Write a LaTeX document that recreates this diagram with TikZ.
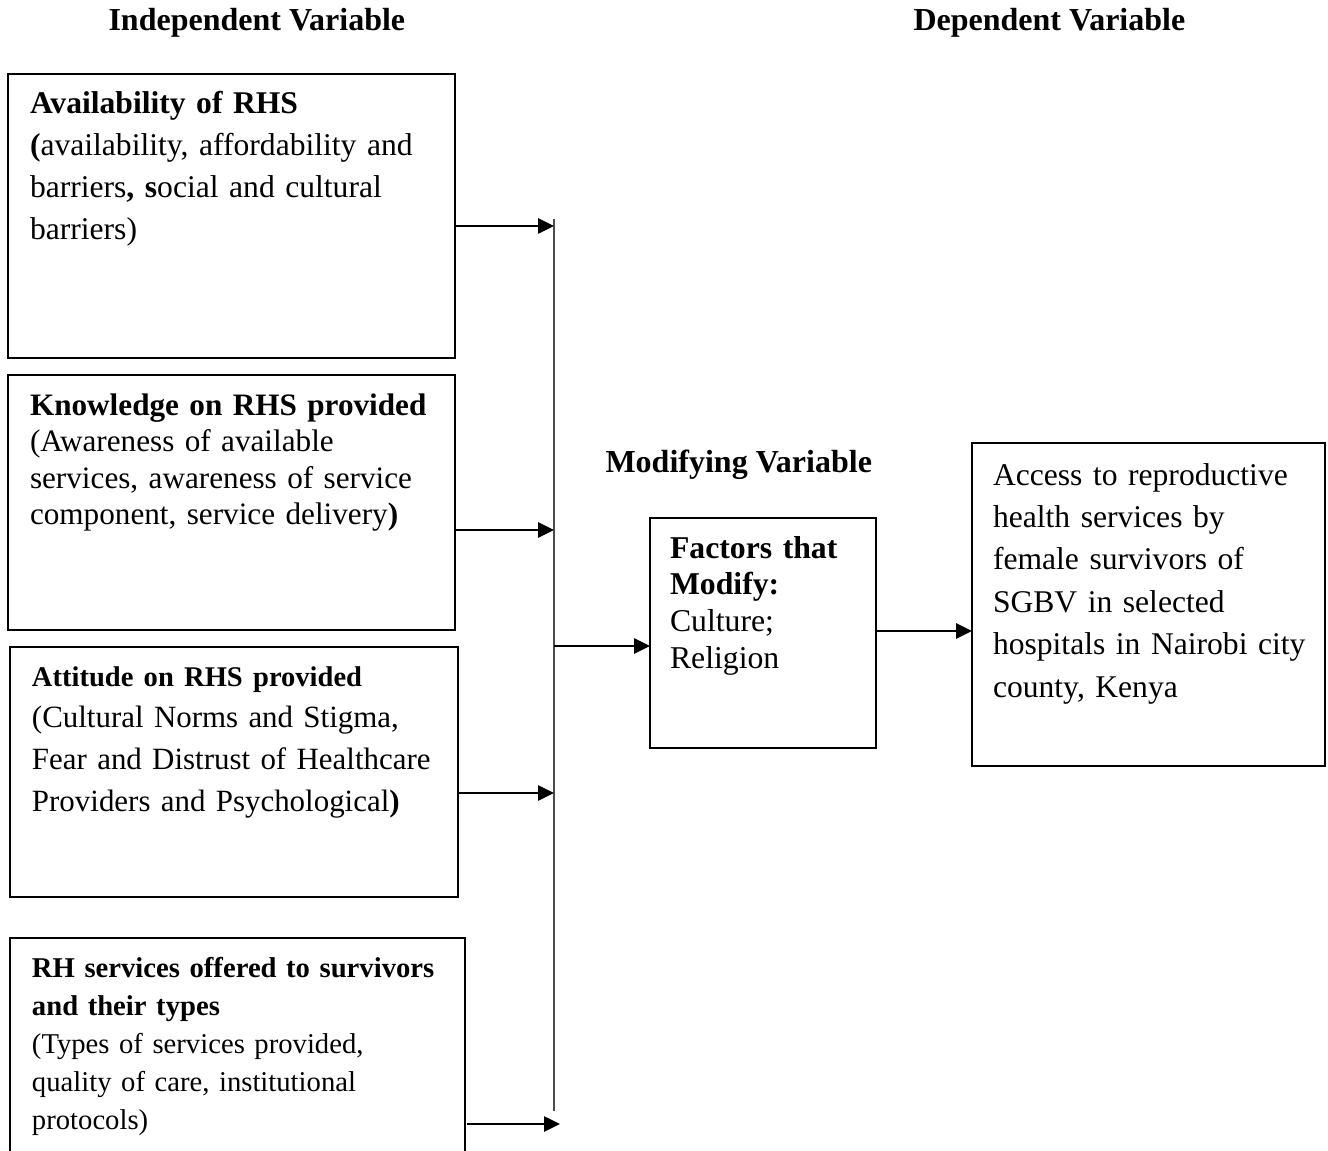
\documentclass[tikz,border=0pt]{standalone}
\usepackage{fontspec}
\setmainfont{Liberation Serif}
\usetikzlibrary{arrows.meta}
\begin{document}
\begin{tikzpicture}[x=0.375pt,y=-0.375pt,
  box/.style={draw, line width=0.75pt, anchor=north west, inner sep=0pt, outer sep=0pt},
  txt/.style={anchor=base west, inner sep=0pt, outer sep=0pt, align=left},
  arr/.style={line width=1.05pt, -{Triangle[length=6pt,width=5.6pt]}},
  bus/.style={line width=0.75pt, draw=black!70},
  hdr/.style={anchor=base west, inner sep=0pt, font=\fontsize{12}{14}\selectfont\bfseries}]
\useasboundingbox (0,0) rectangle (1328,1151);
\clip (0,0) rectangle (1328,1151);
% headers
\node[hdr] (hind) at (108,31) {Independent Variable};
\node[hdr] (hdep) at (913,31) {Dependent Variable};
\node[hdr] (hmod) at (605,472) {Modifying Variable};
% boxes
\node[box, minimum width=167.625pt, minimum height=106.5pt] (b1) at (8,74) {};
\node[box, minimum width=167.625pt, minimum height=95.625pt] (b2) at (8,375) {};
\node[box, minimum width=168pt, minimum height=93.75pt] (b3) at (10,647) {};
\node[box, minimum width=170.625pt, minimum height=93.75pt] (b4) at (10,938) {};
\node[box, minimum width=84.75pt, minimum height=86.25pt] (mod) at (650,518) {};
\node[box, minimum width=132.375pt, minimum height=121.125pt] (dep) at (972,443) {};
% texts
\node[txt, text width=160pt, font=\fontsize{11.85}{15.75}\selectfont] (t1) at (30,114)
  {\textbf{Availability of RHS}\\\textbf{(}availability, affordability and\\barriers\textbf{, s}ocial and cultural\\barriers)};
\node[txt, text width=160pt, font=\fontsize{11.7}{13.7}\selectfont] (t2) at (30,415)
  {\textbf{Knowledge on RHS provided}\\(Awareness of available\\services, awareness of service\\component, service delivery\textbf{)}};
\node[txt, text width=160pt, font=\fontsize{11.6}{15.7}\selectfont] (t3) at (32,686)
  {{\fontsize{10.7}{15.7}\selectfont\bfseries Attitude on RHS provided}\\(Cultural Norms and Stigma,\\Fear and Distrust of Healthcare\\Providers and Psychological\textbf{)}};
\node[txt, text width=165pt, font=\fontsize{10.75}{14.25}\selectfont] (t4) at (32,977)
  {\textbf{RH services offered to survivors}\\\textbf{and their types}\\(Types of services provided,\\quality of care, institutional\\protocols)};
\node[txt, text width=75pt, font=\fontsize{11.9}{13.8}\selectfont] (tm) at (670,558)
  {\textbf{Factors that}\\\textbf{Modify:}\\Culture;\\Religion};
\node[txt, text width=125pt, font=\fontsize{11.85}{15.9}\selectfont] (td) at (993,485)
  {Access to reproductive\\health services by\\female survivors of\\SGBV in selected\\hospitals in Nairobi city\\county, Kenya};
% bus line
\coordinate (bustop) at (554,219);
\coordinate (busbot) at (554,1111);
\coordinate (bus1) at (554,226);
\coordinate (bus2) at (554,530);
\coordinate (bus3) at (554,793);
\coordinate (bus4) at (560,1124);
\coordinate (busout) at (554,646);
\draw[bus] (bustop) -- (busbot);
% arrows
\draw[arr] (b1.east |- bus1) -- (bus1);
\draw[arr] (b2.east |- bus2) -- (bus2);
\draw[arr] (b3.east |- bus3) -- (bus3);
\draw[arr] ([xshift=0.75pt]b4.east |- bus4) -- (bus4);
\draw[arr] (busout) -- (mod.west |- busout);
\coordinate (mo) at (876,631);
\draw[arr] (mod.east |- mo) -- (dep.west |- mo);
\end{tikzpicture}
\end{document}
